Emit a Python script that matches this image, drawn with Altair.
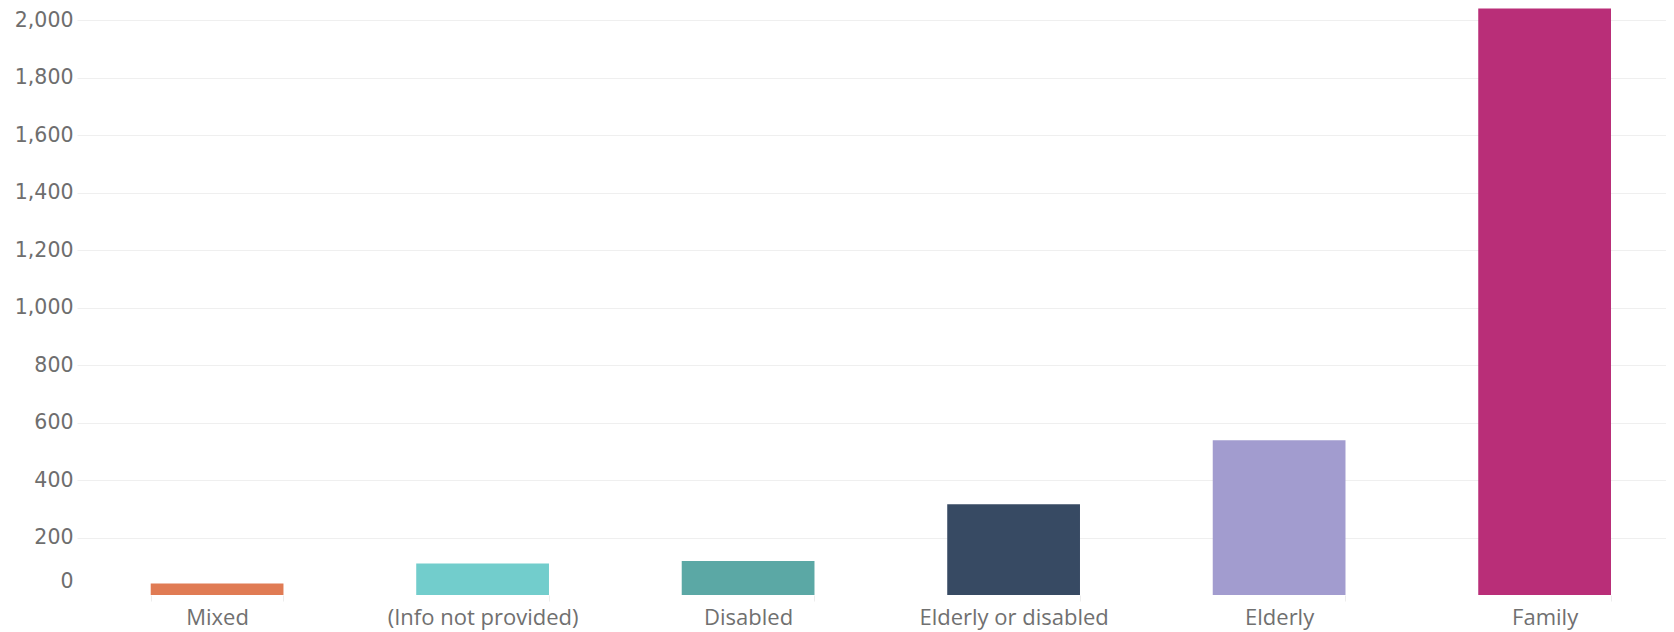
import altair as alt
import pandas as pd

categories = ["Mixed", "(Info not provided)", "Disabled", "Elderly or disabled", "Elderly", "Family"]
values = [40, 110, 118, 316, 538, 2040]
colors = ["#e07b54", "#72cdcc", "#5ba8a5", "#374a63", "#a29ccf", "#b92e78"]
y_ticks = [0, 200, 400, 600, 800, 1000, 1200, 1400, 1600, 1800, 2000]

df = pd.DataFrame({"category": categories, "value": values})

chart = alt.Chart(df).mark_bar().encode(
    x=alt.X("category:N", sort=categories, title=None,
            scale=alt.Scale(paddingInner=0.5, paddingOuter=0.2424, align=0.5727),
            axis=alt.Axis(labelAngle=0, labelFont="Open Sans", labelFontSize=22,
                          labelColor="#707070", labelPadding=6, labelLimit=0,
                          minExtent=36, maxExtent=36,
                          domain=False, ticks=True, tickBand="extent",
                          tickColor="#ededed", tickSize=6, grid=False)),
    y=alt.Y("value:Q", title=None,
            scale=alt.Scale(domain=[0, 2028], nice=False),
            axis=alt.Axis(values=y_ticks, format=",d", labelFont="DejaVu Sans",
                          labelFontSize=20.5, labelColor="#6e6e6e",
                          labelPadding=4, labelFlush=True, labelFlushOffset=-4,
                          tickSize=0, minExtent=69, maxExtent=69,
                          domain=False, ticks=False,
                          gridColor="#efefef", gridWidth=1,
                          gridOpacity={"condition": {"test": "datum.value === 0", "value": 0}, "value": 1})),
    color=alt.Color("category:N", sort=categories,
                    scale=alt.Scale(domain=categories, range=colors),
                    legend=None),
).properties(
    width=1589, height=583, padding={"left": 0, "top": 0, "right": 0, "bottom": 0}
).configure_view(stroke=None)

chart.save("out.html", embed_options={"renderer": "svg", "actions": False})
